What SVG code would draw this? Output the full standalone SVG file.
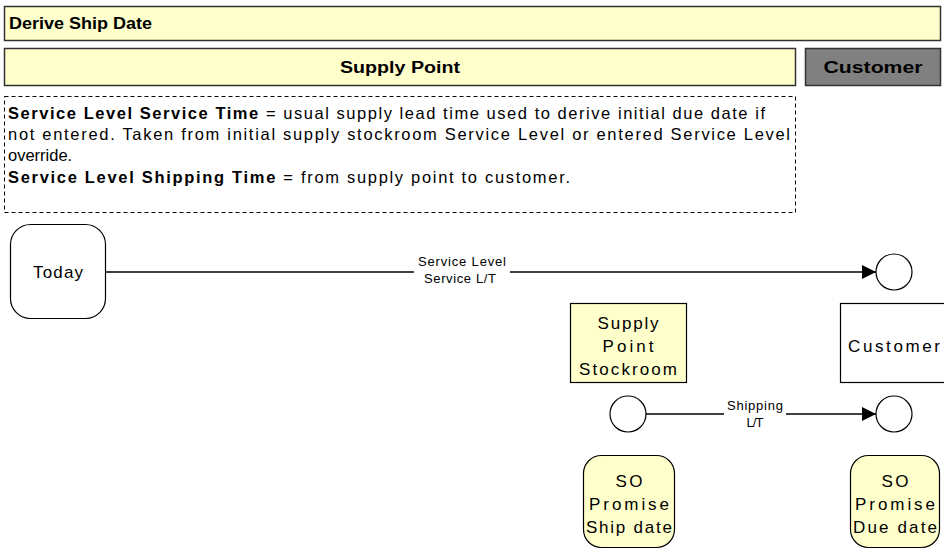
<svg xmlns="http://www.w3.org/2000/svg" width="944" height="550" viewBox="0 0 944 550">
<style>
text{font-family:"Liberation Sans",Arial,sans-serif;fill:#000}
.bar{fill:#ffffcc;stroke:#333;stroke-width:1.5}
.hb{font-weight:bold;font-size:16px}
.t{font-size:16.5px}
.n{font-size:17px}
.node{stroke:#000;stroke-width:1.2}
.y{fill:#ffffcc}
.w{fill:#fff}
.lbl{font-size:13px}
.edge{stroke:#000;stroke-width:1.5;fill:none}
</style>
<defs>
<marker id="ah" viewBox="0 0 10 10" refX="10" refY="5" markerWidth="14" markerHeight="14" markerUnits="userSpaceOnUse" orient="auto">
<path d="M0,0 L10,5 L0,10 z" fill="#000"/>
</marker>
</defs>
<rect width="944" height="550" fill="#fff"/>
<g id="header">
<rect class="bar" x="4.5" y="6.5" width="936" height="34"/>
<text class="hb" x="9" y="29" textLength="143" lengthAdjust="spacingAndGlyphs">Derive Ship Date</text>
</g>
<g id="lane-supply">
<rect class="bar" x="4.5" y="48.5" width="791" height="37"/>
<text class="hb" x="400" y="73" text-anchor="middle" textLength="120" lengthAdjust="spacingAndGlyphs">Supply Point</text>
</g>
<g id="lane-customer">
<rect x="805.5" y="48.5" width="135" height="37" fill="#808080" stroke="#333" stroke-width="1.5"/>
<text class="hb" x="873" y="73" text-anchor="middle" textLength="99" lengthAdjust="spacingAndGlyphs">Customer</text>
</g>
<g id="note">
<rect x="4.5" y="96.5" width="791" height="116" fill="#fff" stroke="#000" stroke-dasharray="4,3"/>
<text class="t" x="8" y="119" textLength="757" lengthAdjust="spacing"><tspan font-weight="bold">Service Level Service Time</tspan> = usual supply lead time used to derive initial due date if</text>
<text class="t" x="8" y="140" textLength="782" lengthAdjust="spacing">not entered.  Taken from initial supply stockroom Service Level or entered Service Level</text>
<text class="t" x="8" y="161">override.</text>
<text class="t" x="8" y="183" textLength="562" lengthAdjust="spacing"><tspan font-weight="bold">Service Level Shipping Time</tspan> = from supply point to customer.</text>
</g>
<g id="connectors">
<line class="edge" x1="105" y1="272" x2="876" y2="272" marker-end="url(#ah)"/>
<rect x="414" y="252" width="96" height="34" fill="#fff"/>
<text class="lbl" x="462" y="266" text-anchor="middle" textLength="88" lengthAdjust="spacing">Service Level</text>
<text class="lbl" x="460" y="283" text-anchor="middle" textLength="72" lengthAdjust="spacing">Service L/T</text>
<line class="edge" x1="645" y1="414" x2="876" y2="414" marker-end="url(#ah)"/>
<rect x="724" y="396" width="62" height="32" fill="#fff"/>
<text class="lbl" x="755" y="410" text-anchor="middle" textLength="56" lengthAdjust="spacing">Shipping</text>
<text class="lbl" x="755" y="427" text-anchor="middle" textLength="17" lengthAdjust="spacing">L/T</text>
</g>
<g id="today">
<rect class="node w" x="10.5" y="224.5" width="95" height="94" rx="20"/>
<text class="n" x="58" y="278" text-anchor="middle" textLength="50" lengthAdjust="spacing">Today</text>
</g>
<g id="due-circle-top">
<circle class="node w" cx="894" cy="272" r="18"/>
</g>
<g id="stockroom">
<rect class="node y" x="570.5" y="303.5" width="116" height="79"/>
<text class="n" x="628" y="329" text-anchor="middle" textLength="61" lengthAdjust="spacing">Supply</text>
<text class="n" x="628" y="352" text-anchor="middle" textLength="51" lengthAdjust="spacing">Point</text>
<text class="n" x="628" y="375" text-anchor="middle" textLength="98" lengthAdjust="spacing">Stockroom</text>
</g>
<g id="customer">
<rect class="node w" x="840.5" y="303.5" width="110" height="79"/>
<text class="n" x="894" y="352" text-anchor="middle" textLength="92" lengthAdjust="spacing">Customer</text>
</g>
<g id="ship-circle">
<circle class="node w" cx="628" cy="414" r="18"/>
</g>
<g id="due-circle">
<circle class="node w" cx="894" cy="414" r="18"/>
</g>
<g id="ship-date">
<rect class="node y" x="583.5" y="455.5" width="91" height="92" rx="18"/>
<text class="n" x="629" y="487" text-anchor="middle" textLength="27" lengthAdjust="spacing">SO</text>
<text class="n" x="629" y="510" text-anchor="middle" textLength="80" lengthAdjust="spacing">Promise</text>
<text class="n" x="629" y="533" text-anchor="middle" textLength="86" lengthAdjust="spacing">Ship date</text>
</g>
<g id="due-date">
<rect class="node y" x="850.5" y="455.5" width="89" height="92" rx="18"/>
<text class="n" x="895" y="487" text-anchor="middle" textLength="27" lengthAdjust="spacing">SO</text>
<text class="n" x="895" y="510" text-anchor="middle" textLength="80" lengthAdjust="spacing">Promise</text>
<text class="n" x="895" y="533" text-anchor="middle" textLength="84" lengthAdjust="spacing">Due date</text>
</g>
</svg>
